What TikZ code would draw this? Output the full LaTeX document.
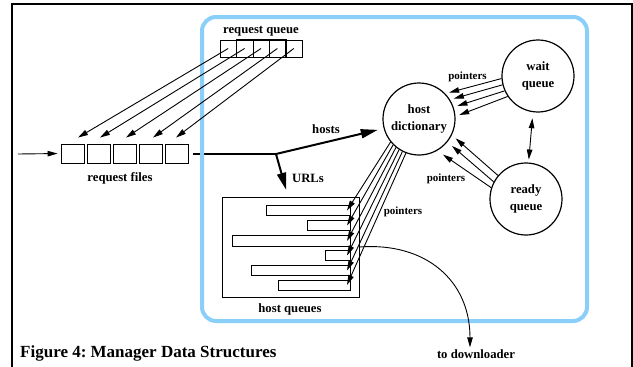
\documentclass[tikz,border=0pt]{standalone}
\usepackage{fontspec}
\setmainfont{Liberation Serif}
\usetikzlibrary{arrows.meta}
\definecolor{skyline}{RGB}{138,206,250}
\tikzstyle{cell} = [draw, line width=0.9pt, inner sep=0pt]
\tikzstyle{queue} = [draw, circle, line width=1.2pt, minimum size=72pt, inner sep=0pt, align=center, font=\fontsize{12.7}{17.5}\selectfont\bfseries]
\tikzstyle{lbl} = [font=\fontsize{12.7}{14}\selectfont\bfseries, inner sep=0pt]
\tikzstyle{ptrlbl} = [font=\fontsize{11}{12}\selectfont\bfseries, inner sep=0pt]
\tikzstyle{ptr} = [line width=0.9pt, -{Stealth[length=10pt,width=5.5pt,inset=0pt]}]
\tikzstyle{both} = [line width=0.9pt, {Stealth[length=10pt,width=5.5pt,inset=0pt]}-{Stealth[length=10pt,width=5.5pt,inset=0pt]}]
\tikzstyle{fat} = [line width=2pt, -{Stealth[length=17pt,width=9pt,inset=0pt]}]

\begin{document}
\frenchspacing
\begin{tikzpicture}[x=1pt,y=-1pt]
\useasboundingbox (0,0) rectangle (633,367);
\draw[line width=1.1pt] (12,372) -- (12,4) -- (632,4) -- (632,372);

% request files
\node[cell, minimum width=23pt, minimum height=19pt] (rf1) at (72.5,153.5) {};
\node[cell, minimum width=23pt, minimum height=19pt] (rf2) at (98.5,153.5) {};
\node[cell, minimum width=23pt, minimum height=19pt] (rf3) at (124.5,153.5) {};
\node[cell, minimum width=23pt, minimum height=19pt] (rf4) at (150.5,153.5) {};
\node[cell, minimum width=23pt, minimum height=19pt] (rf5) at (176.5,153.5) {};
\node[lbl] (rflabel) at (120,178) {request files};
\coordinate (in) at (18,154);
\draw[ptr, shorten >=3pt] (in) -- (rf1.west);

\coordinate (src) at (193,154);
\coordinate (fork) at (276,154);
\draw[line width=2pt] (src) -- (fork);

\draw[skyline, line width=4pt, rounded corners=14pt] (202,17) rectangle (587,321);

% request queue
\node[lbl] (rqlabel) at (261,31) {request queue};
\node[cell, line width=0.6pt, minimum width=16.4pt, minimum height=17pt] (rq1) at (228.2,48.5) {};
\node[cell, line width=0.6pt, minimum width=16.4pt, minimum height=17pt] (rq2) at (244.6,48.5) {};
\node[cell, line width=0.6pt, minimum width=16.4pt, minimum height=17pt] (rq3) at (261,48.5) {};
\node[cell, line width=0.6pt, minimum width=16.4pt, minimum height=17pt] (rq4) at (277.4,48.5) {};
\node[cell, line width=0.6pt, minimum width=16.4pt, minimum height=17pt] (rq5) at (293.8,48.5) {};
\draw[line width=1.2pt] (rq2.north west) rectangle (rq4.south east);
\draw[ptr] (rq1.center) -- ([shift={(5.5pt,6pt)}]rf1.north);
\draw[ptr] (rq2.center) -- ([shift={(1.5pt,6pt)}]rf2.north);
\draw[ptr] (rq3.center) -- ([shift={(1.5pt,6pt)}]rf3.north);
\draw[ptr] (rq4.center) -- ([shift={(2.5pt,6pt)}]rf4.north);
\draw[ptr] (rq5.center) -- ([shift={(-0.5pt,6pt)}]rf5.north);

% queues
\node[queue] (hostdict) at (419,119) {host\\dictionary};
\node[queue] (waitq) at (538,76) {wait\\queue};
\node[queue] (readyq) at (526,199) {ready\\queue};
\draw[both, shorten <=6pt, shorten >=3pt] (waitq.262) -- (readyq.86);

\draw[ptr, shorten >=4pt] (waitq.184) -- (hostdict.44);
\draw[ptr, shorten >=4pt] (waitq.194) -- (hostdict.32);
\draw[ptr, shorten >=4pt] (waitq.204) -- (hostdict.19);
\draw[ptr, shorten >=4pt] (waitq.214) -- (hostdict.4);
\node[ptrlbl] (wplabel) at (467.5,77) {pointers};

\draw[ptr, shorten >=5pt] (readyq.140) -- (hostdict.-26);
\draw[ptr, shorten >=6pt] (readyq.152) -- (hostdict.-39);
\draw[ptr, shorten >=7pt] (readyq.162) -- (hostdict.-60);
\node[ptrlbl] (rplabel) at (446,179) {pointers};

% hosts and URLs
\draw[fat, shorten >=6pt] (fork) -- (hostdict.195);
\node[lbl] (hostslabel) at (326,129) {hosts};
\node[draw, line width=1pt, minimum width=137pt, minimum height=100pt, inner sep=0pt] (hostq) at (290.5,247) {};
\draw[fat, shorten >=7pt] (fork) -- ([xshift=-2.5pt]hostq.north);
\node[lbl] (urllabel) at (308,178) {URLs};
\node[lbl] (hqlabel) at (290,309) {host queues};

\node[cell, anchor=east, minimum width=84pt, minimum height=10pt] (hq1) at (351,210.5) {};
\node[cell, anchor=east, minimum width=43pt, minimum height=10pt] (hq2) at (351,225.5) {};
\node[cell, anchor=east, minimum width=118pt, minimum height=11pt] (hq3) at (351,241) {};
\node[cell, anchor=east, minimum width=25pt, minimum height=10pt] (hq4) at (351,255.5) {};
\node[cell, anchor=east, minimum width=99pt, minimum height=10pt] (hq5) at (351,270.5) {};
\node[cell, anchor=east, minimum width=72pt, minimum height=10pt] (hq6) at (351,285) {};
\draw[ptr] (hostdict.219) -- ([xshift=-4pt]hq1.east);
\draw[ptr] (hostdict.225) -- ([xshift=-4pt]hq2.east);
\draw[ptr] (hostdict.231) -- ([xshift=-4pt]hq3.east);
\draw[ptr] (hostdict.237) -- ([xshift=-4pt]hq4.east);
\draw[ptr] (hostdict.243) -- ([xshift=-4pt]hq5.east);
\draw[ptr] (hostdict.249) -- ([xshift=-4pt]hq6.east);
\node[ptrlbl] (hplabel) at (403,212) {pointers};

% downloader
\node[lbl] (todl) at (476,354) {to downloader};
\draw[ptr, shorten >=2pt] (hostq.east) .. controls (425,242) and (470,280) .. ([xshift=-6pt]todl.north);

\node[anchor=base west, font=\fontsize{17}{19}\selectfont\bfseries, inner sep=0pt] (caption) at (20,357) {Figure 4: Manager Data Structures};
\end{tikzpicture}
\end{document}
